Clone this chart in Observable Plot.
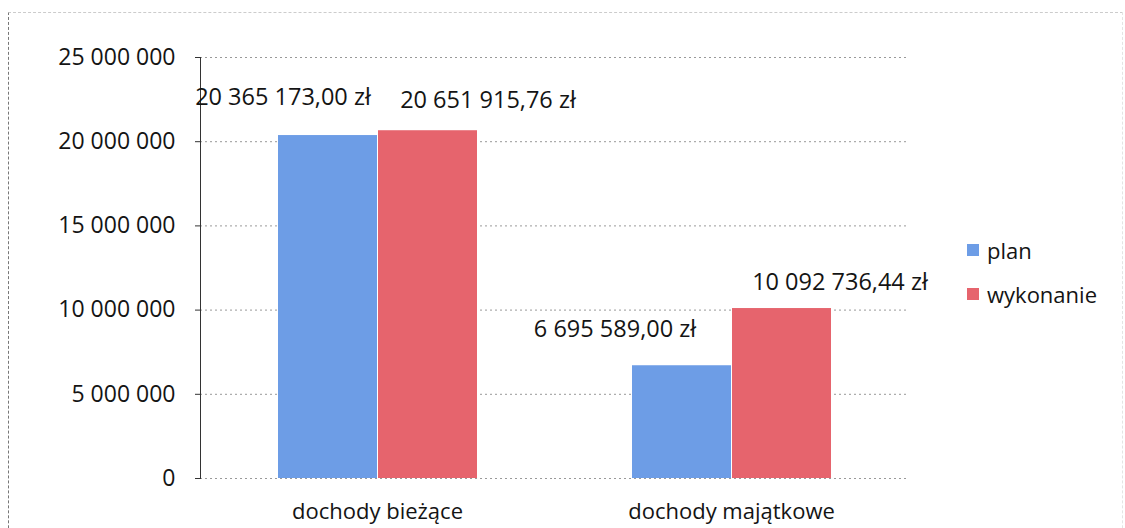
<!DOCTYPE html>
<html><head><meta charset="utf-8">
<script src="https://cdn.jsdelivr.net/npm/d3@7"></script>
<script src="https://cdn.jsdelivr.net/npm/@observablehq/plot@0.6"></script>
<style>
body{margin:0;background:#fff;font-family:"Open Sans",sans-serif;}
#wrap{position:relative;width:1125px;height:528px;overflow:hidden;}
#frame{position:absolute;left:8px;top:12px;width:1113px;height:600px;border-left:1px dashed #777;border-top:1px dashed #ccc;border-right:1px dashed #e4e4e4;}
#chart{position:absolute;left:0;top:0;}
#legend{position:absolute;left:967px;top:228px;font-size:22px;color:#141414;}
.item{display:flex;align-items:center;height:44px;}
.sw{width:12px;height:12px;margin-right:8px;}
</style></head><body><div id="wrap"><div id="frame"></div><div id="chart"></div><div id="legend"></div></div>
<script>
const categories = ["dochody bieżące", "dochody majątkowe"];
const series = ["plan", "wykonanie"];
const planValues = [20365173.00, 6695589.00];
const wykonanieValues = [20651915.76, 10092736.44];
const yTicks = [0, 5000000, 10000000, 15000000, 20000000, 25000000];
const colors = ["#6d9de6", "#e6646d"];

const data = [];
categories.forEach((c, i) => {
  data.push({category: c, series: "plan", value: planValues[i]});
  data.push({category: c, series: "wykonanie", value: wykonanieValues[i]});
});

const fmtTick = d => d3.format(",")(d).replace(/,/g, " ");
const fmtVal = d => d3.format(",.2f")(d).replace(/,/g, " ").replace(".", ",") + " zł";

const labelStyle = {fontSize: 23.5, fill: "#141414", lineAnchor: "middle"};
function label(ci, s, dx, dy) {
  return Plot.text(data, {
    filter: d => d.category === categories[ci] && d.series === s,
    fx: "category", x: "series", y: "value",
    text: d => fmtVal(d.value), dx, dy, ...labelStyle
  });
}

const chart = Plot.plot({
  width: 1125,
  height: 528,
  marginLeft: 200,
  marginRight: 217,
  marginTop: 57,
  marginBottom: 50,
  style: {fontFamily: "'Open Sans', sans-serif", color: "#141414", background: "transparent"},
  fx: {domain: categories, padding: 0, label: null},
  x: {domain: series, paddingInner: 0.015, paddingOuter: 0.76, axis: null},
  y: {domain: [0, 25000000], label: null},
  color: {domain: series, range: colors},
  marks: [
    Plot.gridY(yTicks, {stroke: "#555", strokeDasharray: "2,3", strokeOpacity: 0.6}),
    Plot.barY(data, {fx: "category", x: "series", y: "value", fill: "series"}),
    Plot.frame({anchor: "left", stroke: "#333", facetAnchor: "left"}),
    Plot.axisY(yTicks, {tickFormat: fmtTick, tickSize: 5, tickPadding: 20, fontSize: 23, stroke: "#333"}),
    Plot.axisFx({anchor: "bottom", tickSize: 0, tickPadding: 25, fontSize: 22, label: null}),
    label(0, "plan", -45, -38),
    label(0, "wykonanie", 60, -30),
    label(1, "plan", -67, -36),
    label(1, "wykonanie", 58, -26)
  ]
});
document.getElementById("chart").appendChild(chart);

const legend = document.getElementById("legend");
series.forEach((s, i) => {
  const item = document.createElement("div");
  item.className = "item";
  const sw = document.createElement("span");
  sw.className = "sw";
  sw.style.background = colors[i];
  const t = document.createElement("span");
  t.textContent = s;
  item.appendChild(sw);
  item.appendChild(t);
  legend.appendChild(item);
});
</script>
</body></html>
